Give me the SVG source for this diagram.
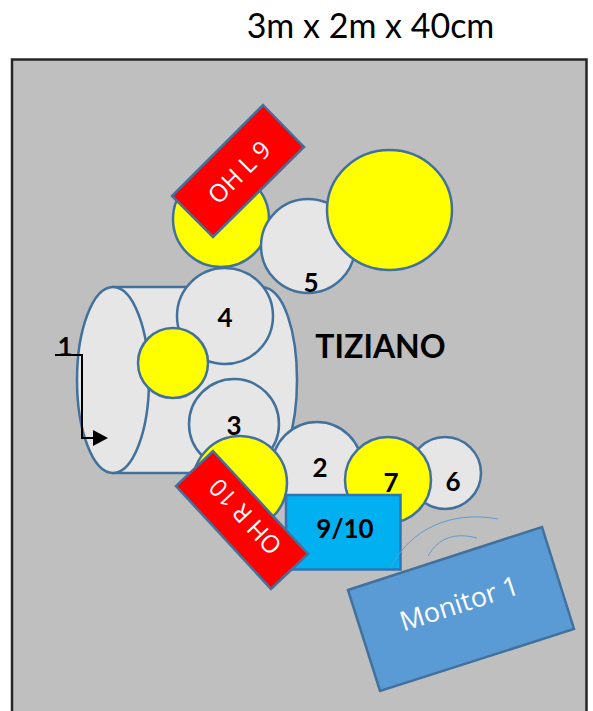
<svg xmlns="http://www.w3.org/2000/svg" width="593" height="711" viewBox="0 0 593 711">
<defs>
<style>
.s{stroke:#41719c;stroke-width:2.5}
.g{fill:#e6e6e6}
.y{fill:#ffff00}
.r{fill:#ff0000}
.t{font-family:"Lato","Liberation Sans",sans-serif;fill:#000;text-anchor:middle}
.b{font-weight:700;font-size:26px}
.w{font-family:"Open Sans","Liberation Sans",sans-serif;fill:#fff;text-anchor:middle}
</style>
<marker id="arr" viewBox="0 0 10 10" refX="0" refY="5" markerWidth="15" markerHeight="16" orient="auto" markerUnits="userSpaceOnUse" preserveAspectRatio="none"><path d="M0 0L10 5L0 10z" fill="#000"/></marker>
</defs>
<rect width="593" height="711" fill="#fff"/>
<path id="panel" d="M12 711V59.500H586.500V711" fill="#bfbfbf" stroke="#262626" stroke-width="2.500"/>
<text class="t" x="370.500" y="38" font-size="34">3m x 2m x 40cm</text>
<g id="node-1">
<path class="s g" d="M113 287H261C285 287 297 335 297 380C297 425 285 473 261 473H113z"/>
<ellipse class="s g" cx="113" cy="380" rx="36" ry="93"/>
</g>
<g id="node-4"><circle class="s g" cx="225" cy="316" r="48"/><text class="t b" x="225" y="327">4</text></g>
<g id="node-yellow-1"><circle class="s y" cx="173" cy="363" r="35"/></g>
<g id="node-3"><circle class="s g" cx="234" cy="424" r="45"/></g>
<g id="node-2"><circle class="s g" cx="317" cy="467" r="45"/><text class="t b" x="320" y="477">2</text></g>
<g id="node-yellow-r"><circle class="s y" cx="240" cy="483" r="47"/></g>
<text class="t b" x="234" y="435">3</text>
<g id="node-6"><circle class="s g" cx="445" cy="473" r="36"/><text class="t b" x="453" y="491">6</text></g>
<g id="node-7"><circle class="s y" cx="388" cy="480" r="43"/><text class="t b" x="391" y="492">7</text></g>
<g id="node-9-10"><rect x="286" y="495" width="114.500" height="74.500" fill="#00b0f0" stroke="#2e75b6" stroke-width="2.500"/><text class="t b" x="345" y="538">9/10</text></g>
<g id="node-oh-r"><path class="s r" d="M213 451L308 554L271 589L176 486z"/><text class="w" font-size="24.500" transform="translate(245 517) rotate(227)" y="9">OH R 10</text></g>
<g id="node-yellow-l"><circle class="s y" cx="221" cy="219" r="48"/></g>
<g id="node-5"><circle class="s g" cx="308" cy="246" r="47"/><text class="t b" x="311" y="292">5</text></g>
<g id="node-yellow-big"><ellipse class="s y" cx="389.500" cy="210" rx="62.500" ry="60"/></g>
<g id="node-oh-l"><path class="s r" d="M263 105L304 147L213 237L172 196z"/><text class="w" font-size="24.500" transform="translate(239 172) rotate(-45)" y="9">OH L 9</text></g>
<text id="tiziano" class="t" x="380.500" y="358" font-size="32" font-weight="700">TIZIANO</text>
<g id="node-monitor"><path d="M348 590L542 527L574 629L380 691z" fill="#5b9bd5" stroke="#41719c" stroke-width="2.500"/><text class="w" font-size="27" transform="translate(459 603) rotate(-18)" y="10">Monitor 1</text></g>
<g id="connectors" fill="none">
<path d="M391 567C410 530 450 510 498 519" stroke="#5b9bd5" stroke-width="1"/>
<path d="M428 556C438 538 455 532 477 538" stroke="#5b9bd5" stroke-width="1"/>
<path d="M55 355H82V438H93" stroke="#000" stroke-width="2" marker-end="url(#arr)"/>
</g>
<text class="t b" x="65" y="356">1</text>
</svg>
